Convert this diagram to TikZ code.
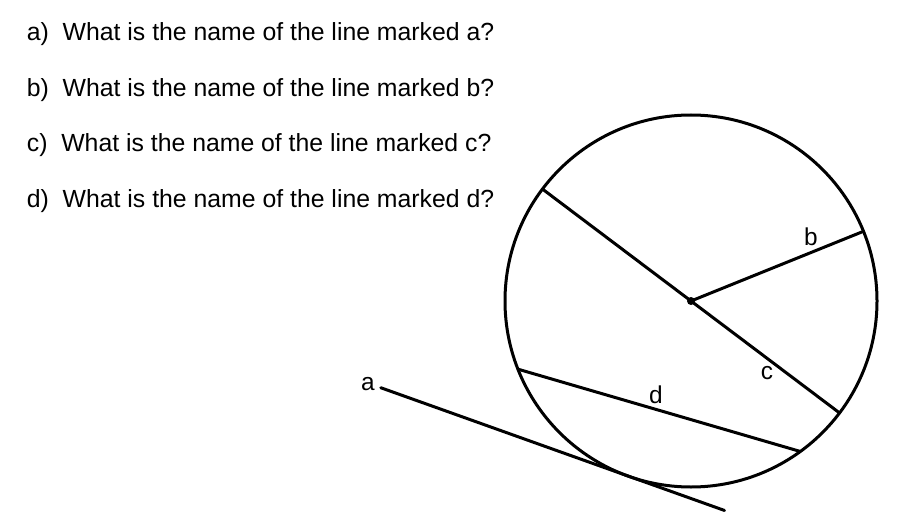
\documentclass[tikz,border=0pt]{standalone}
\usepackage{fontspec}
\setmainfont{Liberation Sans}
\usetikzlibrary{calc, positioning}

\tikzset{
  question/.style={anchor=base west, inner sep=0pt, font=\fontsize{12.4}{14}\selectfont},
  marklbl/.style={inner sep=0pt, font=\fontsize{12.2}{14}\selectfont},
  geoline/.style={line width=1.5pt, line cap=round}
}

\begin{document}
\begin{tikzpicture}[x=0.5pt, y=0.5pt]
\useasboundingbox (0,0) rectangle (920,520);

% questions
\foreach \q/\y in {a/40.7, b/96.2, c/151.7, d/207.2} {
    \node[question] (q\q) at (26.5, 520-\y) {\q)~~What is the name of the line marked \q?};
};

% circle and its points
\coordinate (O) at (691, 219);
\draw[geoline] (O) circle (186);
\fill (O) circle (4);

\path (O) ++(143:186)   coordinate (diamL);
\path (O) ++(-37:186)   coordinate (diamR);
\path (O) ++(22:186)    coordinate (radB);
\path (O) ++(201.5:186) coordinate (chordL);
\path (O) ++(-54:186)   coordinate (chordR);
\path (O) ++(-109.65:186) coordinate (T);
\coordinate (tanL) at ($(T)+(160.35:263)$);
\coordinate (tanR) at ($(T)+(-19.65:102)$);

% the lines
\draw[geoline] (diamL) -- (O) -- (diamR);
\draw[geoline] (O) -- (radB);
\draw[geoline] (chordL) -- (chordR);
\draw[geoline] (tanL) -- (tanR);

% labels
\node[marklbl] (lblA) at (368, 520-384) {a};
\node[marklbl] (lblB) at (811, 520-237) {b};
\node[marklbl] (lblC) at (767, 520-373) {c};
\node[marklbl] (lblD) at (656, 520-395) {d};
\end{tikzpicture}
\end{document}
